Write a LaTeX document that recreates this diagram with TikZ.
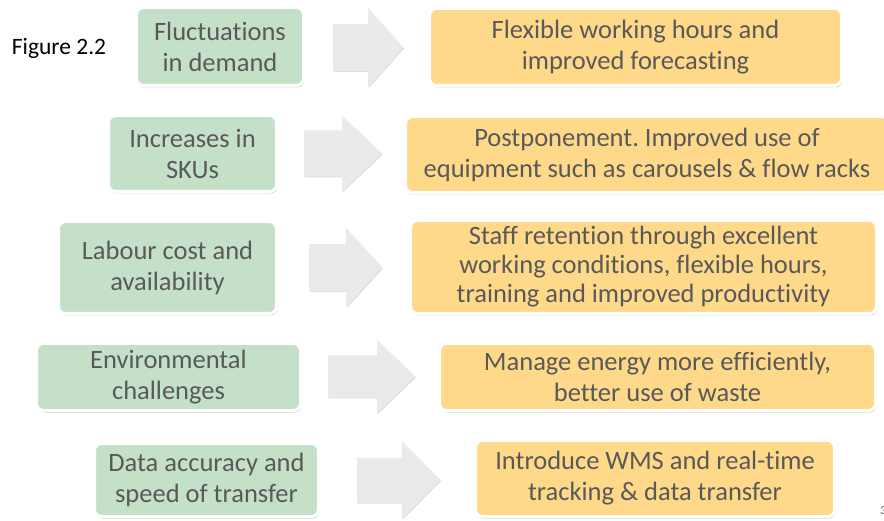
\documentclass[tikz,border=0pt]{standalone}
\usepackage{fontspec}
\setmainfont{Carlito}[Ligatures=NoCommon]
\usetikzlibrary{shadows}
\frenchspacing
\definecolor{causegreen}{HTML}{C5E0C9}
\definecolor{fixorange}{HTML}{FFD98A}
\definecolor{arrowgray}{HTML}{EAEAEA}
\definecolor{textgray}{HTML}{595959}
% block arrow: name, tail x, head x, tip x, mid y, shaft half, head half
\newcommand{\bigarrow}[7]{%
  \fill[arrowgray, drop shadow={opacity=0.25, shadow xshift=1pt, shadow yshift=-1pt}]
    (#2,#5-#6) -- (#3,#5-#6) -- (#3,#5-#7) -- (#4,#5) -- (#3,#5+#7)
    -- (#3,#5+#6) -- (#2,#5+#6) -- cycle;
  \coordinate (#1) at ({(#2+#4)/2},#5);}
\begin{document}
\begin{tikzpicture}[x=1pt,y=-1pt,
    box/.style={draw=white, line width=3pt, rounded corners=7pt,
        inner sep=0pt, align=center, text=textgray,
        font=\fontsize{26.5}{31}\selectfont,
        drop shadow={opacity=0.35, shadow xshift=1pt, shadow yshift=-2pt}},
    cause/.style={box, fill=causegreen},
    remedy/.style={box, fill=fixorange}]
    \useasboundingbox (0,0) rectangle (884,521);

    % Caption
    \node (fig) at (59,48) {\fontsize{23.5}{28}\selectfont Figure 2.2};

    % Causes
    \node[cause, minimum width=167pt, minimum height=78pt] (c1) at (220,46.5)
        {Fluctuations\\in demand};
    \node[cause, minimum width=168pt, minimum height=76pt] (c2) at (192.5,153.5)
        {Increases in\\SKUs};
    \node[cause, minimum width=218pt, minimum height=92pt] (c3) at (167.5,267.5)
        {Labour cost and\\availability};
    \node[cause, minimum width=264pt, minimum height=67pt] (c4) at (168.5,377)
        {Environmental\\challenges};
    \node[cause, minimum width=224pt, minimum height=73pt] (c5) at (206.5,480)
        {Data accuracy and\\speed of transfer};

    % Arrows
    \bigarrow{a1}{333}{368}{403}{47.5}{23.5}{39.5}
    \bigarrow{a2}{304}{342}{382}{153.5}{23}{37.5}
    \bigarrow{a3}{309}{346}{382}{267.5}{23.5}{39.5}
    \bigarrow{a4}{328}{377}{415}{376.5}{21}{36.5}
    \bigarrow{a5}{357}{402}{440}{480}{22.5}{38.5}

    % Remedies
    \node[remedy, minimum width=412pt, minimum height=77pt] (r1) at (635.5,47)
        {Flexible working hours and\\improved forecasting};
    \node[remedy, minimum width=483pt, minimum height=76pt] (r2) at (647,154.5)
        {Postponement. Improved use of\\equipment such as carousels \& flow racks};
    \node[remedy, minimum width=466pt, minimum height=93pt,
        font=\fontsize{26.5}{29}\selectfont] (r3) at (643.5,267)
        {Staff retention through excellent\\working conditions, flexible hours,\\training and improved productivity};
    \node[remedy, minimum width=436pt, minimum height=67pt] (r4) at (657.5,377)
        {Manage energy more efficiently,\\better use of waste};
    \node[remedy, minimum width=359pt, minimum height=76pt] (r5) at (655,478.5)
        {Introduce WMS and real-time\\tracking \& data transfer};

    % Page number
    \node[anchor=west, inner sep=0pt, text=textgray, font=\fontsize{12}{14}\selectfont] (pg) at (880,511) {3};
\end{tikzpicture}
\end{document}
